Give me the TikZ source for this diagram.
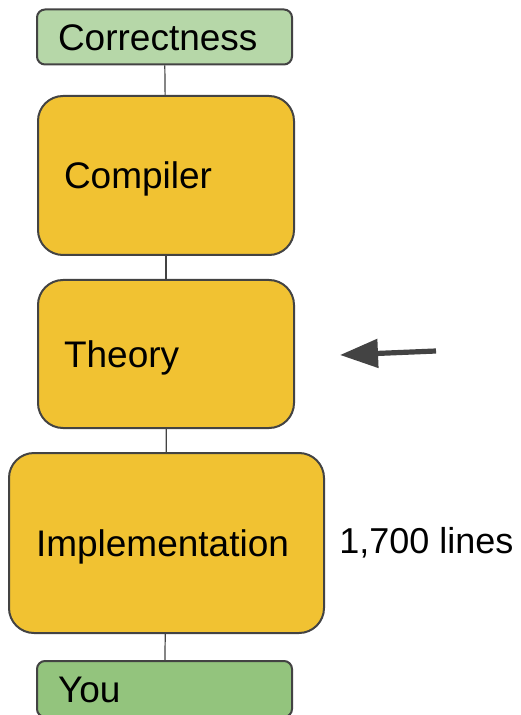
\documentclass[tikz,border=0pt]{standalone}
\usepackage{fontspec}
\setmainfont{Liberation Sans}
\usepackage{tikz}
\usetikzlibrary{arrows.meta, positioning}
\definecolor{Edge_Gray}{HTML}{434343}
\definecolor{Stage_Gold}{HTML}{F1C232}
\definecolor{Top_Green}{HTML}{B6D7A8}
\definecolor{Base_Green}{HTML}{93C47D}
\newcommand{\stagefont}{\fontsize{18.5}{22}\selectfont}
\newcommand{\notefont}{\fontsize{18}{22}\selectfont}

\begin{document}
\begin{tikzpicture}[x=0.5pt, y=-0.5pt,
    stage/.style={draw=Edge_Gray, line width=1pt, fill=Stage_Gold, rounded corners=12.5pt,
                  align=left, inner xsep=13pt, text height=13.25pt, text depth=0pt, font=\stagefont},
    tag/.style={draw=Edge_Gray, line width=1pt, rounded corners=4pt,
                align=left, inner xsep=10.5pt, text width=106.5pt, minimum height=27.5pt,
                text height=13.25pt, text depth=0pt, font=\stagefont},
    link/.style={draw=Edge_Gray, line width=0.6pt}]
    % Page frame
    \useasboundingbox (0,0) rectangle (520,715);
    \clip (0,0) rectangle (520,715);

    % Stack of boxes
    \node[tag, fill=Top_Green] (corr) at (164.5,37) {Correctness};
    \node[stage, text width=102pt, minimum height=79.5pt] (comp) at (166,175.5) {Compiler};
    \node[stage, text width=102pt, minimum height=74pt] (theo) at (166,354) {Theory};
    \node[stage, text width=130.5pt, inner xsep=13.5pt, minimum height=90pt] (impl) at (166.5,543) {Implementation};
    \node[tag, fill=Base_Green, minimum height=28pt] (you) at (164.5,689) {You};

    % Links between the boxes
    \draw[link] (corr) -- (comp);
    \draw[link] (comp) -- (theo);
    \draw[link] (theo) -- (impl);
    \draw[link] (impl) -- (you);

    % Size note
    \node[right=7pt of impl, inner sep=0pt, font=\notefont] (size) {1,700 lines};

    % Pointer
    \coordinate (ptail) at (436,351);
    \coordinate (ptip) at (340,355);
    \draw[-{Triangle[length=19pt, width=14pt]}, line width=2.6pt, Edge_Gray] (ptail) -- (ptip);
\end{tikzpicture}
\end{document}
